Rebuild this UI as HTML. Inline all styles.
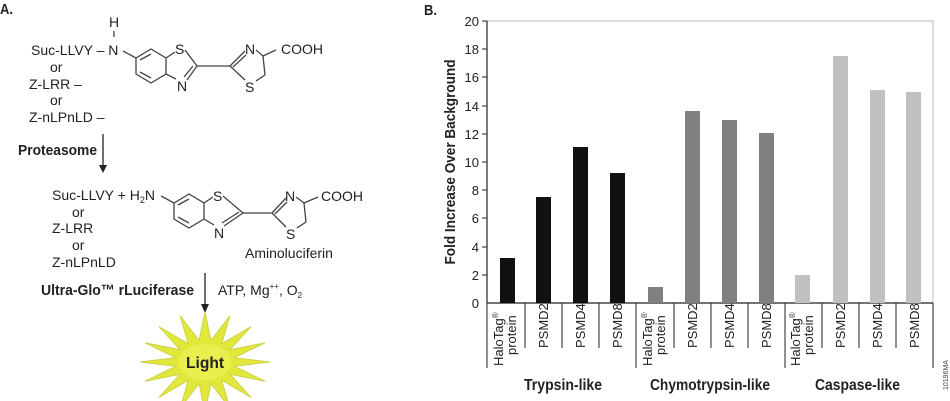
<!DOCTYPE html>
<html><head><meta charset="utf-8"><style>
html,body{margin:0;padding:0;background:#fff;}
svg{display:block;font-family:"Liberation Sans",sans-serif;}
.b{font-family:"Liberation Sans Narrow","Liberation Sans",sans-serif;font-weight:bold;}
</style></head><body>
<svg width="950" height="401" viewBox="0 0 950 401" xmlns="http://www.w3.org/2000/svg">
<g fill="#222" font-size="14">
<text x="0" y="14" class="b" font-size="15" textLength="13" lengthAdjust="spacingAndGlyphs">A.</text>
<!-- structure 1 -->
<text x="109" y="27">H</text>
<line x1="114" y1="31" x2="114" y2="37" stroke="#333" stroke-width="1.2"/>
<text x="31" y="55">Suc-LLVY – N</text>
<text x="50" y="72">or</text>
<text x="29" y="89">Z-LRR –</text>
<text x="50" y="105">or</text>
<text x="29" y="122">Z-nLPnLD –</text>
<g stroke="#444" stroke-width="1.3" fill="none">
<polyline points="123,51 136,58 151,49 166,58 166,74 151,83 136,74 136,58"/>
<line x1="140" y1="72" x2="151" y2="78"/><line x1="140" y1="60" x2="151" y2="54"/>
<line x1="166" y1="58" x2="175" y2="52"/><line x1="166" y1="74" x2="176" y2="79"/>
<line x1="185" y1="50" x2="197" y2="66"/><line x1="187" y1="80" x2="197" y2="66"/><line x1="184" y1="77" x2="193" y2="66"/>
<line x1="197" y1="66" x2="230" y2="66"/>
<line x1="230" y1="66" x2="245" y2="51"/><line x1="233" y1="67" x2="246" y2="55"/>
<line x1="230" y1="66" x2="245" y2="80"/>
<line x1="256" y1="50" x2="263" y2="56"/><line x1="263" y1="56" x2="276" y2="50"/>
<line x1="263" y1="56" x2="265" y2="75"/><line x1="265" y1="75" x2="256" y2="81"/>
</g>
<text x="175" y="54">S</text><text x="177" y="91">N</text>
<text x="245" y="54">N</text><text x="245" y="92">S</text>
<text x="281" y="54">COOH</text>
<!-- arrow 1 -->
<line x1="103" y1="134" x2="103" y2="166" stroke="#222" stroke-width="1.3"/>
<polygon points="99,165 107,165 103,173" fill="#222"/>
<text x="18" y="155" class="b" font-size="15" textLength="79" lengthAdjust="spacingAndGlyphs">Proteasome</text>
<!-- structure 2 -->
<text x="52" y="200">Suc-LLVY + H<tspan font-size="9" dy="3">2</tspan><tspan dy="-3">N</tspan></text>
<text x="72" y="217">or</text>
<text x="52" y="233">Z-LRR</text>
<text x="72" y="250">or</text>
<text x="52" y="267">Z-nLPnLD</text>
<g stroke="#444" stroke-width="1.3" fill="none">
<polyline points="161,196 174,203 189,194 204,203 204,219 189,228 174,219 174,203"/>
<line x1="178" y1="217" x2="189" y2="223"/><line x1="178" y1="205" x2="189" y2="199"/>
<line x1="204" y1="203" x2="213" y2="197"/><line x1="204" y1="219" x2="214" y2="225"/>
<line x1="223" y1="196" x2="243" y2="213"/><line x1="224" y1="226" x2="243" y2="213"/><line x1="222" y1="223" x2="239" y2="212"/>
<line x1="243" y1="213" x2="272" y2="213"/>
<line x1="272" y1="213" x2="286" y2="198"/><line x1="275" y1="214" x2="287" y2="202"/>
<line x1="272" y1="213" x2="286" y2="227"/>
<line x1="296" y1="197" x2="304" y2="203"/><line x1="304" y1="203" x2="318" y2="197"/>
<line x1="304" y1="203" x2="306" y2="222"/><line x1="306" y1="222" x2="297" y2="228"/>
</g>
<text x="213" y="201">S</text><text x="214" y="238">N</text>
<text x="285" y="201">N</text><text x="286" y="239">S</text>
<text x="321" y="201">COOH</text>
<text x="245" y="258">Aminoluciferin</text>
<!-- arrow 2 -->
<line x1="205" y1="273" x2="205" y2="305" stroke="#222" stroke-width="1.3"/>
<polygon points="201,304 209,304 205,313" fill="#222"/>
<text x="41" y="295" class="b" font-size="15" textLength="153" lengthAdjust="spacingAndGlyphs">Ultra-Glo™ rLuciferase</text>
<text x="218" y="295">ATP, Mg<tspan font-size="8" dy="-6">++</tspan><tspan dy="6">, O</tspan><tspan font-size="8" dy="3">2</tspan></text>
<!-- starburst -->
<polygon fill="#e2e83a" stroke="#cdd24a" stroke-width="1" points="270,362 234.4,357.7 265,342.8 229.9,349.8 251,326.7 221.7,343.7 229.9,315.8 210.9,340.4 205,312 199.1,340.4 180.1,315.8 188.3,343.7 159,326.7 180.1,349.8 145,342.8 175.6,357.7 140,362 175.6,366.3 145,381.2 180.1,374.2 159,397.3 188.3,380.3 180.1,408.2 199.1,383.6 205,412 210.9,383.6 229.9,408.2 221.7,380.3 251,397.3 229.9,374.2 265,381.2 234.4,366.3"/>
<ellipse cx="205" cy="362" rx="26" ry="18" fill="#eef25a" opacity="0.7"/>
<text x="186" y="368" class="b" font-size="16" textLength="38" lengthAdjust="spacingAndGlyphs">Light</text>
</g>
<!-- chart B -->
<g font-size="13" fill="#222">
<text x="424" y="15" class="b" font-size="15" textLength="13" lengthAdjust="spacingAndGlyphs">B.</text>
<rect x="487" y="21" width="446" height="282" fill="none" stroke="#bbb" stroke-width="1"/>
<line x1="487" y1="21" x2="487" y2="303" stroke="#222" stroke-width="1.2"/>
<line x1="487" y1="303" x2="933" y2="303" stroke="#222" stroke-width="1.2"/>
<g text-anchor="end">
<text x="479" y="26">20</text><text x="479" y="54">18</text><text x="479" y="82">16</text><text x="479" y="111">14</text>
<text x="479" y="139">12</text><text x="479" y="167">10</text><text x="479" y="195">8</text><text x="479" y="223">6</text>
<text x="479" y="252">4</text><text x="479" y="280">2</text><text x="479" y="308">0</text>
</g>
<g stroke="#222" stroke-width="1">
<line x1="482" y1="21" x2="487" y2="21"/><line x1="482" y1="49" x2="487" y2="49"/><line x1="482" y1="77" x2="487" y2="77"/>
<line x1="482" y1="106" x2="487" y2="106"/><line x1="482" y1="134" x2="487" y2="134"/><line x1="482" y1="162" x2="487" y2="162"/>
<line x1="482" y1="190" x2="487" y2="190"/><line x1="482" y1="218" x2="487" y2="218"/><line x1="482" y1="247" x2="487" y2="247"/>
<line x1="482" y1="275" x2="487" y2="275"/>
</g>
<text transform="translate(455,162) rotate(-90)" text-anchor="middle" class="b" font-size="15" textLength="205" lengthAdjust="spacingAndGlyphs">Fold Increase Over Background</text>
<!-- bars -->
<g>
<rect x="500" y="258" width="15" height="45" fill="#111"/>
<rect x="536" y="197" width="15" height="106" fill="#111"/>
<rect x="573" y="147" width="15" height="156" fill="#111"/>
<rect x="610" y="173" width="15" height="130" fill="#111"/>
<rect x="648" y="287" width="15" height="16" fill="#808080"/>
<rect x="685" y="111" width="15" height="192" fill="#808080"/>
<rect x="722" y="120" width="15" height="183" fill="#808080"/>
<rect x="759" y="133" width="15" height="170" fill="#808080"/>
<rect x="795" y="275" width="15" height="28" fill="#c0c0c0"/>
<rect x="833" y="56" width="15" height="247" fill="#c0c0c0"/>
<rect x="870" y="90" width="15" height="213" fill="#c0c0c0"/>
<rect x="906" y="92" width="15" height="211" fill="#c0c0c0"/>
</g>
<g stroke="#222" stroke-width="1">
<line x1="487" y1="303" x2="487" y2="368"/><line x1="525" y1="303" x2="525" y2="348"/><line x1="562" y1="303" x2="562" y2="348"/>
<line x1="599" y1="303" x2="599" y2="348"/><line x1="636" y1="303" x2="636" y2="368"/><line x1="674" y1="303" x2="674" y2="348"/>
<line x1="711" y1="303" x2="711" y2="348"/><line x1="748" y1="303" x2="748" y2="348"/><line x1="785" y1="303" x2="785" y2="368"/>
<line x1="822" y1="303" x2="822" y2="348"/><line x1="859" y1="303" x2="859" y2="348"/><line x1="896" y1="303" x2="896" y2="348"/>
<line x1="933" y1="303" x2="933" y2="368"/>
</g>
<g font-size="13">
<text transform="translate(503,366) rotate(-90)">HaloTag<tspan font-size="8" dy="-5">®</tspan></text>
<text transform="translate(516,355) rotate(-90)">protein</text>
<text transform="translate(548,348) rotate(-90)">PSMD2</text>
<text transform="translate(585,348) rotate(-90)">PSMD4</text>
<text transform="translate(622,348) rotate(-90)">PSMD8</text>
<text transform="translate(652,366) rotate(-90)">HaloTag<tspan font-size="8" dy="-5">®</tspan></text>
<text transform="translate(665,355) rotate(-90)">protein</text>
<text transform="translate(697,348) rotate(-90)">PSMD2</text>
<text transform="translate(734,348) rotate(-90)">PSMD4</text>
<text transform="translate(771,348) rotate(-90)">PSMD8</text>
<text transform="translate(800,366) rotate(-90)">HaloTag<tspan font-size="8" dy="-5">®</tspan></text>
<text transform="translate(813,355) rotate(-90)">protein</text>
<text transform="translate(845,348) rotate(-90)">PSMD2</text>
<text transform="translate(882,348) rotate(-90)">PSMD4</text>
<text transform="translate(919,348) rotate(-90)">PSMD8</text>
</g>
<g class="b" font-size="16">
<text x="524" y="390" textLength="78" lengthAdjust="spacingAndGlyphs">Trypsin-like</text>
<text x="650" y="390" textLength="120" lengthAdjust="spacingAndGlyphs">Chymotrypsin-like</text>
<text x="815" y="390" textLength="85" lengthAdjust="spacingAndGlyphs">Caspase-like</text>
</g>
<text transform="translate(948,390) rotate(-90)" font-size="7" fill="#444">10196MA</text>
</g>
</svg>
</body></html>
